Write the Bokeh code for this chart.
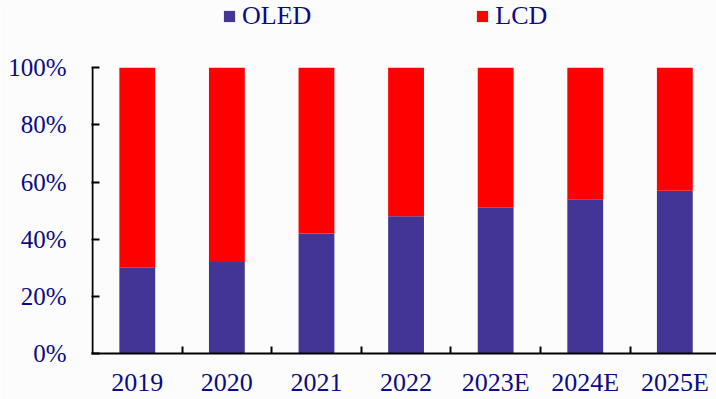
from bokeh.plotting import figure
from bokeh.models import ColumnDataSource, FixedTicker, Legend, LegendItem, Range1d
from bokeh.embed import file_html
from bokeh.resources import INLINE

years = ["2019", "2020", "2021", "2022", "2023E", "2024E", "2025E"]
oled = [30, 32, 42, 48, 51, 54, 57]
lcd = [100 - v for v in oled]

xs = [i + 0.5 for i in range(len(years))]
src = ColumnDataSource(dict(x=xs, oled=oled, lcd=lcd, top=[100] * len(years)))

FONT = "Liberation Serif"
NAVY = "#0b0b85"
TOP = 100 * 354 / 286.5  # y-range end so 100% sits below the legend area

p = figure(width=716, height=399, output_backend="svg", toolbar_location=None,
           x_range=Range1d(-0.011, 6.965), y_range=Range1d(0, TOP),
           min_border_left=91, min_border_right=0, min_border_top=0, min_border_bottom=45,
           background_fill_color="#fcfcfc", border_fill_color="#fcfcfc")
p.outline_line_color = None
p.xgrid.visible = False
p.ygrid.visible = False

r1 = p.vbar(x="x", bottom=0, top="oled", width=0.4, source=src, fill_color="#423595", line_color=None)
r2 = p.vbar(x="x", bottom="oled", top="top", width=0.4, source=src, fill_color="#ff0000", line_color=None)

# y axis line drawn only from 0% to 100%
p.segment(x0=[0], y0=[0], x1=[0], y1=[100], line_color="black", line_width=2)

# x axis: labels at centers, tick marks at boundaries (minor ticks)
p.xaxis.ticker = FixedTicker(ticks=xs, minor_ticks=[1, 2, 3, 4, 5, 6])
p.xaxis.major_label_overrides = {x: y for x, y in zip(xs, years)}
p.xaxis.major_tick_in = 0
p.xaxis.major_tick_out = 0
p.xaxis.minor_tick_in = 7
p.xaxis.minor_tick_out = 0
p.xaxis.minor_tick_line_width = 2
p.xaxis.minor_tick_line_color = "black"
p.xaxis.axis_line_width = 2
p.xaxis.axis_line_color = "black"
p.xaxis.major_label_text_font = FONT
p.xaxis.major_label_text_font_size = "26px"
p.xaxis.major_label_text_color = NAVY
p.xaxis.major_label_standoff = 14

p.yaxis.ticker = FixedTicker(ticks=[0, 20, 40, 60, 80, 100], minor_ticks=[])
p.yaxis.major_label_overrides = {v: f"{v}%" for v in [0, 20, 40, 60, 80, 100]}
p.yaxis.major_tick_in = 8
p.yaxis.major_tick_out = 0
p.yaxis.major_tick_line_width = 2
p.yaxis.axis_line_color = None
p.yaxis.major_label_text_font = FONT
p.yaxis.major_label_text_font_size = "25px"
p.yaxis.major_label_text_color = NAVY
p.yaxis.major_label_standoff = 25

legend = Legend(items=[LegendItem(label="OLED", renderers=[r1]), LegendItem(label="LCD", renderers=[r2])],
                orientation="horizontal", location=(131, 322),
                glyph_width=14, glyph_height=14, label_text_font=FONT, label_text_font_size="26px",
                label_text_color=NAVY, spacing=164, label_standoff=6, padding=0, margin=0,
                border_line_color=None, background_fill_alpha=0)
p.add_layout(legend, "center")

open("out.html", "w").write(file_html(p, INLINE))
